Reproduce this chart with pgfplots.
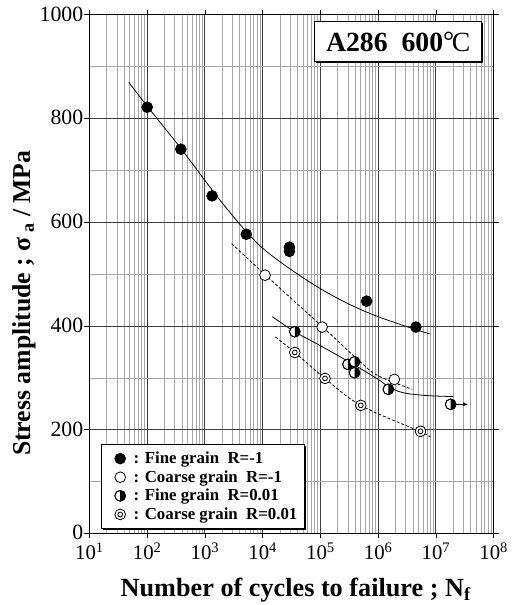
\documentclass[border=0pt]{standalone}
\usepackage{fontspec}
\setmainfont{Liberation Serif}
\usepackage{pgfplots}
\pgfplotsset{compat=1.18}
\usetikzlibrary{arrows.meta,shadows}

% half filled circle (right half black)
\pgfdeclareplotmark{halfcirc}{%
  \pgfpathcircle{\pgfpointorigin}{\pgfplotmarksize}%
  \pgfsetfillcolor{white}\pgfusepathqfillstroke
  \pgfpathmoveto{\pgfqpoint{0pt}{\pgfplotmarksize}}%
  \pgfpatharc{90}{-90}{\pgfplotmarksize}%
  \pgfpathclose
  \pgfsetfillcolor{black}\pgfusepathqfill
  \pgfpathcircle{\pgfpointorigin}{\pgfplotmarksize}%
  \pgfusepathqstroke
}
% double circle
\pgfdeclareplotmark{dcirc}{%
  \pgfpathcircle{\pgfpointorigin}{\pgfplotmarksize}%
  \pgfsetfillcolor{white}\pgfusepathqfillstroke
  \pgfpathcircle{\pgfpointorigin}{0.45\pgfplotmarksize}%
  \pgfusepathqstroke
}

\begin{document}
\begin{tikzpicture}
\begin{axis}[
  at={(0,0)}, anchor=south west,
  scale only axis, width=407bp, height=522bp,
  xmode=log, log basis x=10,
  xmin=10, xmax=1e8, ymin=0, ymax=1000,
  xtick={1e1,1e2,1e3,1e4,1e5,1e6,1e7,1e8},
  xticklabels={10\textsuperscript{1},10\textsuperscript{2},10\textsuperscript{3},10\textsuperscript{4},
               10\textsuperscript{5},10\textsuperscript{6},10\textsuperscript{7},10\textsuperscript{8}},
  minor xtick={20,30,40,50,60,70,80,90,
    200,300,400,500,600,700,800,900,
    2000,3000,4000,5000,6000,7000,8000,9000,
    2e4,3e4,4e4,5e4,6e4,7e4,8e4,9e4,
    2e5,3e5,4e5,5e5,6e5,7e5,8e5,9e5,
    2e6,3e6,4e6,5e6,6e6,7e6,8e6,9e6,
    2e7,3e7,4e7,5e7,6e7,7e7,8e7,9e7},
  ytick={0,200,400,600,800,1000},
  minor ytick={100,300,500,700,900},
  /pgf/number format/assume math mode=true,
  /pgf/number format/1000 sep={},
  grid=both,
  major grid style={black!75, line width=1pt},
  minor grid style={black!35, line width=0.7pt},
  tick align=outside, major tick length=5bp, minor tick length=0pt,
  tick style={black, line width=0.8pt},
  axis line style={line width=1pt},
  yticklabel style={font=\fontsize{22}{22}\selectfont, inner sep=1bp, yshift=0.8bp},
  xticklabel style={font=\fontsize{21}{21}\selectfont, inner sep=1bp, yshift=-3bp},
  xlabel={\bfseries Number of cycles to failure ; N\textsubscript{f}},
  ylabel={\bfseries Stress amplitude ; σ\,\textsubscript{a} / MPa},
  xlabel style={font=\fontsize{26.5}{26.5}\selectfont, at={(axis description cs:0.0688,-0.1207)}, anchor=base west},
  ylabel style={font=\fontsize{26}{26}\selectfont, at={(axis description cs:-0.162,0.444)}, anchor=center},
  legend style={at={(axis description cs:0.0295,0.0077)}, anchor=south west,
    draw=black, line width=1pt, fill=white,
    drop shadow={shadow xshift=1.5bp, shadow yshift=-1.5bp, fill=black, opacity=1},
    font=\fontsize{17}{17}\bfseries\selectfont,
    row sep=1.5bp, inner xsep=5bp, inner ysep=6bp},
  legend cell align=left,
  legend image code/.code={\path (0bp,0bp) (24bp,0bp); \draw[only marks] plot coordinates {(13bp,0bp)};},
  mark size=5.4bp,
]
% Fine grain R=-1
\addplot[only marks, mark=*, mark options={fill=black, draw=black, line width=0.8pt}]
  coordinates {(100,822)(383,741)(1330,651)(5200,577)(29000,552)(29000,544)(630000,448)(4.5e6,398)};
\addlegendentry{: Fine grain\ \ R=-1}
% Coarse grain R=-1
\addplot[only marks, mark=*, mark options={fill=white, draw=black, line width=0.8pt}]
  coordinates {(11000,498)(107000,398)(1.9e6,297)};
\addlegendentry{: Coarse grain\ \ R=-1}
% Fine grain R=0.01
\addplot[only marks, mark=halfcirc, mark options={draw=black, line width=0.8pt}]
  coordinates {(36000,389)(300000,326)(390000,331)(390000,310)(1.5e6,278)(1.8e7,249)};
\addlegendentry{: Fine grain\ \ R=0.01}
% Coarse grain R=0.01
\addplot[only marks, mark=dcirc, mark options={draw=black, line width=0.8pt}]
  coordinates {(36000,349)(120000,299)(500000,247)(5.4e6,197)};
\addlegendentry{: Coarse grain\ \ R=0.01}

% fitted curves
\addplot[forget plot, black, line width=0.8pt, smooth, tension=0.6]
  coordinates {(48,870)(100,824)(380,743)(1320,663)(3160,610)(5250,582)(10000,550)(29000,511)(100000,472)(316000,442)(1e6,418)(4.5e6,393)(7.8e6,385)};
\addplot[forget plot, black, line width=0.8pt, dash pattern=on 3bp off 2bp, smooth, tension=0.6]
  coordinates {(2900,559)(11000,499)(107000,399)(500000,330)(1e6,304)(3.9e6,278)};
\addplot[forget plot, black, line width=0.8pt, smooth, tension=0.6]
  coordinates {(14700,418)(36000,389)(100000,362)(400000,324)(1e6,297)(1.5e6,283)(2.24e6,274)(3.6e6,269)(8e6,265.5)(2e7,264)};
\addplot[forget plot, black, line width=0.8pt, dash pattern=on 3bp off 2bp, smooth, tension=0.6]
  coordinates {(16600,379)(36000,349)(120000,299)(500000,247)(5.2e6,197)(8e6,186)};

% run-out arrow
\draw[black, line width=0.8pt, -{Latex[length=5bp,width=4bp]}] (axis cs:2.15e7,249) -- (axis cs:3.6e7,249);

% title box
\node[draw=black, fill=white, line width=1pt,
  drop shadow={shadow xshift=1.5bp, shadow yshift=-1.5bp, fill=black, opacity=1},
  minimum width=168bp, minimum height=40bp, inner sep=0pt,
  font=\fontsize{28}{28}\bfseries\selectfont]
  at (axis description cs:0.764,0.948) {A286\ \ 600{\mdseries\raisebox{0.05em}{°}\kern-0.08em C}};
\end{axis}
\useasboundingbox (-90bp,-68bp) rectangle (429bp,537bp);
\end{tikzpicture}
\end{document}
